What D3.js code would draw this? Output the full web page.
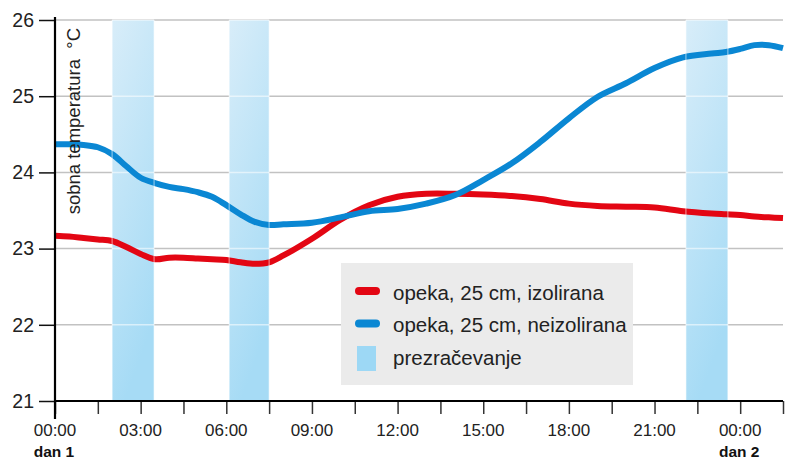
<!DOCTYPE html>
<html>
<head>
<meta charset="utf-8">
<script src="https://cdn.jsdelivr.net/npm/d3@7"></script>
<style>
  html, body { margin: 0; padding: 0; background: #fff; }
  svg { display: block; font-family: "Liberation Sans", Arial, sans-serif; }
</style>
</head>
<body>
<svg id="chart" width="792" height="459"></svg>
<script>
// ---- data ----
const hours = [0,0.5,1,1.5,2,2.5,3,3.5,4,4.5,5,5.5,6,6.5,7,7.5,8,9,10,11,12,13,14,15,16,17,18,19,20,21,22,23,23.5,24,24.5,25,25.5];
const izolirana = [23.17,23.16,23.14,23.12,23.10,23.02,22.93,22.86,22.88,22.88,22.87,22.86,22.85,22.82,22.80,22.82,22.91,23.13,23.38,23.57,23.68,23.72,23.72,23.71,23.69,23.65,23.59,23.56,23.55,23.54,23.49,23.46,23.45,23.44,23.42,23.41,23.40];
const neizolirana = [24.37,24.37,24.36,24.33,24.24,24.08,23.93,23.86,23.81,23.78,23.74,23.68,23.57,23.45,23.35,23.31,23.32,23.34,23.41,23.49,23.52,23.59,23.70,23.90,24.12,24.40,24.71,24.99,25.17,25.37,25.51,25.56,25.58,25.62,25.67,25.67,25.63];
const ventStart = [2.0, 6.1, 22.1];
const ventEnd   = [3.47, 7.5, 23.57];
const yTicks = [21,22,23,24,25,26];
const xTickHours = [0,1.5,3,4.5,6,7.5,9,10.5,12,13.5,15,16.5,18,19.5,21,22.5,24,25.5];
const xLabelHours = [0,3,6,9,12,15,18,21,24];
const xLabels = ["00:00","03:00","06:00","09:00","12:00","15:00","18:00","21:00","00:00"];
const dayLabelHours = [0,24];
const dayLabels = ["dan 1","dan 2"];
const seriesNames = ["opeka, 25 cm, izolirana","opeka, 25 cm, neizolirana"];
const ventName = "prezračevanje";
const yTitle = "sobna temperatura  °C";

// ---- setup ----
const svg = d3.select("#chart");
const x = d3.scaleLinear().domain([0,25.5]).range([55,783]);
const y = d3.scaleLinear().domain([21,26]).range([401,20]);
const red = "#e30613", blue = "#0a87d3";

const defs = svg.append("defs");
const grad = defs.append("linearGradient").attr("id","bandGrad")
  .attr("x1","0").attr("y1","0").attr("x2","0.3").attr("y2","1");
grad.append("stop").attr("offset","0%").attr("stop-color","#d8edf9");
grad.append("stop").attr("offset","100%").attr("stop-color","#a6dbf5");

// gridlines
svg.append("g").selectAll("line").data(yTicks.filter(d => d > 21)).join("line")
  .attr("x1", x(0)).attr("x2", x(25.5))
  .attr("y1", d => y(d)).attr("y2", d => y(d))
  .attr("stroke", "#c2c2c2").attr("stroke-width", 1.5);

// ventilation bands
const bands = ventStart.map((s,i) => ({s, e: ventEnd[i]}));
svg.append("g").selectAll("rect").data(bands).join("rect")
  .attr("x", d => x(d.s)).attr("width", d => x(d.e) - x(d.s))
  .attr("y", y(26)).attr("height", y(21) - y(26))
  .attr("fill", "url(#bandGrad)");
const bandGrid = svg.append("g");
bands.forEach(b => {
  bandGrid.selectAll(null).data(yTicks.filter(d => d > 21)).join("line")
    .attr("x1", x(b.s)).attr("x2", x(b.e))
    .attr("y1", d => y(d)).attr("y2", d => y(d))
    .attr("stroke", "rgba(255,255,255,0.55)").attr("stroke-width", 1.5);
});

// lines
const line = d3.line().x((d,i) => x(hours[i])).y(d => y(d)).curve(d3.curveCatmullRom.alpha(0.5));
svg.append("path").datum(izolirana).attr("d", line)
  .attr("fill","none").attr("stroke", red).attr("stroke-width", 6);
svg.append("path").datum(neizolirana).attr("d", line)
  .attr("fill","none").attr("stroke", blue).attr("stroke-width", 6);

// white band edges over everything
svg.append("g").selectAll("line").data(bands.flatMap(b => [b.s, b.e])).join("line")
  .attr("x1", d => x(d)).attr("x2", d => x(d))
  .attr("y1", y(26)).attr("y2", y(21))
  .attr("stroke", "rgba(255,255,255,0.6)").attr("stroke-width", 1);

// legend
const lg = svg.append("g");
lg.append("rect").attr("x",341).attr("y",263).attr("width",292).attr("height",122).attr("fill","#ebebeb");
[red, blue].forEach((c,i) => {
  const cy = 291 + i*32.5;
  lg.append("line").attr("x1",359).attr("x2",376).attr("y1",cy).attr("y2",cy)
    .attr("stroke",c).attr("stroke-width",8).attr("stroke-linecap","round");
  lg.append("text").attr("x",393).attr("y",cy+8.5).attr("font-size",20.5).attr("fill","#222")
    .text(seriesNames[i]);
});
lg.append("rect").attr("x",357).attr("y",346).attr("width",19).attr("height",25).attr("fill","#9dd8f5");
lg.append("text").attr("x",393).attr("y",364.5).attr("font-size",20.5).attr("fill","#222").text(ventName);

// y axis
const yAxis = d3.axisLeft(y).tickValues(yTicks).tickSize(16).tickPadding(5).tickFormat(d3.format("d"));
const gy = svg.append("g").attr("transform",`translate(${x(0)},0)`).call(yAxis);
gy.select(".domain").remove();
gy.selectAll(".tick line").attr("stroke","#111").attr("stroke-width",1.5);
gy.selectAll(".tick text").attr("font-size",19.5).attr("fill","#222")
  .attr("font-family",'"Liberation Sans", Arial, sans-serif');

// x axis
const xAxis = d3.axisBottom(x).tickValues(xTickHours).tickSize(13).tickPadding(0).tickFormat("");
const gx = svg.append("g").attr("transform",`translate(0,${y(21)})`).call(xAxis);
gx.select(".domain").remove();
gx.selectAll(".tick line").attr("stroke","#333").attr("stroke-width",1.5);

svg.append("g").selectAll("text").data(xLabelHours).join("text")
  .attr("x", d => x(d)).attr("y", 436).attr("text-anchor","middle")
  .attr("font-size",17).attr("fill","#222")
  .text((d,i) => xLabels[i]);
svg.append("g").selectAll("text").data(dayLabelHours).join("text")
  .attr("x", d => x(d) - 1).attr("y", 456.5).attr("text-anchor","middle")
  .attr("font-size",15.5).attr("font-weight","bold").attr("fill","#111")
  .attr("font-family",'"Liberation Sans Narrow", "Liberation Sans", Arial, sans-serif')
  .text((d,i) => dayLabels[i]);

// axis lines
svg.append("line").attr("x1",x(0)).attr("x2",x(0)).attr("y1",17).attr("y2",419)
  .attr("stroke","#000").attr("stroke-width",2.2);
svg.append("line").attr("x1",x(0)).attr("x2",x(25.5)).attr("y1",y(21)).attr("y2",y(21))
  .attr("stroke","#000").attr("stroke-width",2.2);

// y title
svg.append("text").attr("transform",`translate(80,28) rotate(-90)`)
  .attr("text-anchor","end").attr("font-size",18.5).attr("fill","#222")
  .style("white-space","pre").text(yTitle);
</script>
</body>
</html>
